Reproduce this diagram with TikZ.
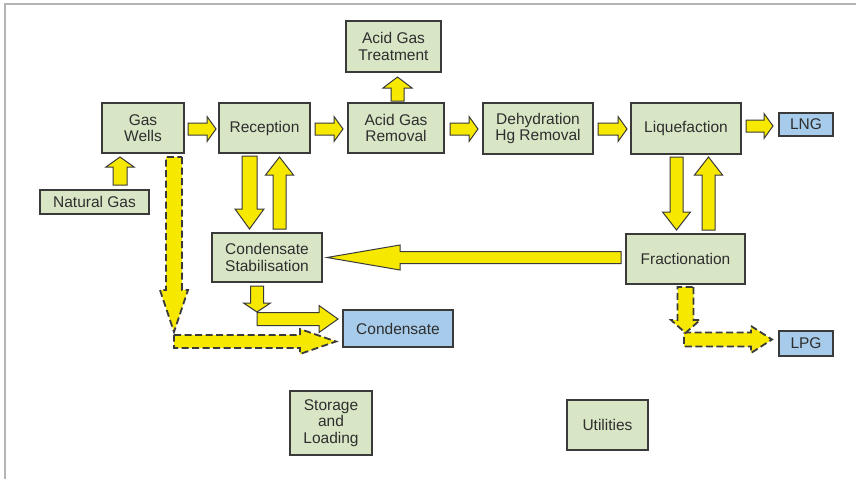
\documentclass[tikz,border=0pt]{standalone}
\usepackage{fontspec}
\setmainfont{Liberation Sans}
\usetikzlibrary{calc}
\definecolor{boxgreen}{HTML}{D9E6C6}
\definecolor{prodblue}{HTML}{A7CBEA}
\definecolor{arrowyellow}{HTML}{F7E800}
\definecolor{edgegray}{HTML}{3A3A3A}
\definecolor{framegray}{HTML}{B4B4B4}
% #1 style, #2 start, #3 end, #4 shaft half width, #5 head half width, #6 head length
\newcommand{\blockarrow}[6]{%
  \path[#1] let \p1=(#2), \p2=(#3), \n1={veclen(\x2-\x1,\y2-\y1)},
    \n2={(\x2-\x1)/\n1}, \n3={(\y2-\y1)/\n1} in
    ({\x1-\n3*#4pt},{\y1+\n2*#4pt})
    -- ({\x2-\n2*#6pt-\n3*#4pt},{\y2-\n3*#6pt+\n2*#4pt})
    -- ({\x2-\n2*#6pt-\n3*#5pt},{\y2-\n3*#6pt+\n2*#5pt})
    -- (\x2,\y2)
    -- ({\x2-\n2*#6pt+\n3*#5pt},{\y2-\n3*#6pt-\n2*#5pt})
    -- ({\x2-\n2*#6pt+\n3*#4pt},{\y2-\n3*#6pt-\n2*#4pt})
    -- ({\x1+\n3*#4pt},{\y1-\n2*#4pt}) -- cycle;}
\begin{document}
\begin{tikzpicture}[x=1pt,y=-1pt,
  box/.style={draw=edgegray, line width=2pt, fill=boxgreen, inner sep=0pt,
    align=center, font=\fontsize{15.5}{16.5}\selectfont, text=black!82},
  prod/.style={box, fill=prodblue},
  yarrow/.style={fill=arrowyellow, draw=edgegray, line width=1pt, line join=miter},
  darrow/.style={fill=arrowyellow, draw=edgegray, line width=1.8pt, dash pattern=on 7pt off 3.5pt}]
\useasboundingbox (0,0) rectangle (856,479);
\draw[framegray, line width=1.5pt] (5,479) -- (5,4) -- (856,4);

% nodes
\node[box, minimum width=82pt, minimum height=50pt] (gw) at (143,128) {Gas\\Wells};
\node[box, minimum width=91pt, minimum height=50pt] (rec) at (264.5,128) {Reception};
\node[box, minimum width=96pt, minimum height=50pt] (agr) at (396,128) {Acid Gas\\Removal};
\node[box, minimum width=95pt, minimum height=51pt] (agt) at (393.5,46.5) {Acid Gas\\Treatment};
\node[box, minimum width=110pt, minimum height=51pt] (dhg) at (538,128.5) {Dehydration\\Hg Removal};
\node[box, minimum width=110pt, minimum height=51pt] (liq) at (686,128.5) {Liquefaction};
\node[prod, minimum width=54pt, minimum height=23pt] (lng) at (806,124.5) {LNG};
\node[box, minimum width=109pt, minimum height=24pt] (ng) at (94.5,202) {Natural Gas};
\node[box, minimum width=110pt, minimum height=49pt] (cs) at (267,257.5) {Condensate\\Stabilisation};
\node[box, minimum width=119pt, minimum height=50pt] (fr) at (685.5,259) {Fractionation};
\node[prod, minimum width=110pt, minimum height=37pt] (cond) at (398,328.5) {Condensate};
\node[prod, minimum width=54pt, minimum height=25pt] (lpg) at (806,343.5) {LPG};
\node[box, minimum width=82pt, minimum height=64pt] (sl) at (331,423) {Storage\\and\\Loading};
\node[box, minimum width=81pt, minimum height=50pt] (ut) at (607.5,425) {Utilities};

% free ends of the bent flows
\coordinate (gc1) at ($(gw.south)+(31,178)$);
\coordinate (gc2) at ($(gw.south)+(31,187.5)$);
\coordinate (cc1) at ($(cs.south)+(-10,29)$);
\coordinate (cc2) at ($(cs.south)+(-10,36)$);
\coordinate (fc1) at ($(fr.south)+(0,48)$);
\coordinate (fc2) at ($(fr.south)+(-1.5,54.5)$);

% main flow arrows
\blockarrow{yarrow}{$(ng.north)+(25.5,-4)$}{$(gw.south)+(-23,3)$}{7}{14}{10}
\blockarrow{yarrow}{$(gw.east)+(3,1)$}{$(rec.west)+(-2,1)$}{6}{12.5}{9}
\blockarrow{yarrow}{$(rec.east)+(4,1)$}{$(agr.west)+(-4,1)$}{6}{12.5}{9}
\blockarrow{yarrow}{$(agr.east)+(5,1)$}{$(dhg.west)+(-4,0.5)$}{6}{12.5}{9}
\blockarrow{yarrow}{$(dhg.east)+(4,0.5)$}{$(liq.west)+(-3,0.5)$}{6}{12.5}{9}
\blockarrow{yarrow}{$(liq.east)+(4,-2.5)$}{$(lng.west)+(-5,1.5)$}{6}{12.5}{9}
\blockarrow{yarrow}{$(agr.north)+(1.5,-1)$}{$(agt.south)+(4,4)$}{6.5}{14.5}{11}
\blockarrow{yarrow}{$(rec.south)+(-15,2)$}{$(cs.north)+(-17.5,-3)$}{7.5}{14.5}{20}
\blockarrow{yarrow}{$(cs.north)+(12.5,-3)$}{$(rec.south)+(15,3)$}{6.5}{14}{18}
\blockarrow{yarrow}{$(liq.south)+(-9.5,2)$}{$(fr.north)+(-9,-3)$}{6.5}{14}{18}
\blockarrow{yarrow}{$(fr.north)+(23,-3)$}{$(liq.south)+(22.5,2)$}{6.5}{14}{18}
\blockarrow{yarrow}{$(fr.west)+(-4,-1.5)$}{$(cs.east)+(4,0)$}{6}{12.5}{73}
\blockarrow{yarrow}{$(cs.south)+(-10,3)$}{cc1}{6.5}{13.5}{9}
\blockarrow{yarrow}{cc2}{$(cond.west)+(-4,-9.5)$}{6.5}{13.5}{19}

% dashed (alternative) flows
\blockarrow{darrow}{gc2}{$(cond.west)+(-6,13)$}{6.5}{12.5}{36}
\blockarrow{darrow}{$(gw.south)+(31,3)$}{gc1}{8}{14}{42}
\blockarrow{darrow}{fc2}{$(lpg.west)+(-6,-4)$}{7}{13.5}{21}
\blockarrow{darrow}{$(fr.south)+(0,2)$}{fc1}{8}{14.5}{13}
\end{tikzpicture}
\end{document}
